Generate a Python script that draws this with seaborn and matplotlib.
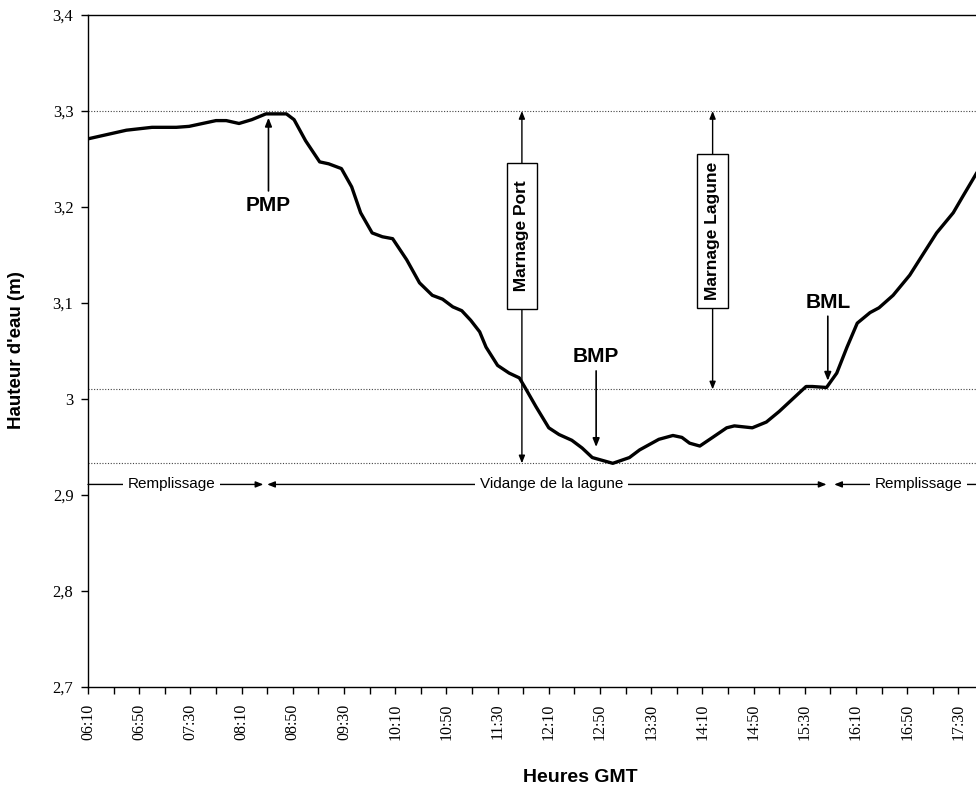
import matplotlib
matplotlib.use("Agg")
import numpy as np
import pandas as pd
import seaborn as sns
import matplotlib.pyplot as plt
from matplotlib.ticker import FuncFormatter

heures = ["06:10", "06:40", "07:00", "07:19", "07:29", "07:50", "07:58", "08:08", "08:18", "08:29",
          "08:45", "08:51", "09:00", "09:11", "09:18", "09:28", "09:36", "09:43", "09:52", "10:00",
          "10:08", "10:19", "10:29", "10:39", "10:47", "10:55", "11:02", "11:09", "11:16", "11:21",
          "11:30", "11:39", "11:47", "11:51", "12:00", "12:10", "12:18", "12:28", "12:36", "12:44",
          "13:00", "13:13", "13:21", "13:36", "13:47", "13:54", "14:00", "14:08", "14:18", "14:29",
          "14:35", "14:49", "15:00", "15:10", "15:31", "15:36", "15:47", "15:55", "16:03", "16:11",
          "16:21", "16:28", "16:39", "16:52", "17:02", "17:13", "17:26", "17:33", "17:45"]
hauteur = [3.271, 3.280, 3.283, 3.283, 3.284, 3.290, 3.290, 3.287, 3.291, 3.297,
           3.297, 3.291, 3.269, 3.247, 3.245, 3.240, 3.221, 3.194, 3.173, 3.169,
           3.167, 3.145, 3.121, 3.108, 3.104, 3.096, 3.092, 3.082, 3.070, 3.054,
           3.035, 3.027, 3.022, 3.013, 2.992, 2.970, 2.963, 2.957, 2.949, 2.939,
           2.933, 2.939, 2.947, 2.958, 2.962, 2.960, 2.954, 2.951, 2.960, 2.970,
           2.972, 2.970, 2.976, 2.987, 3.013, 3.013, 3.012, 3.027, 3.054, 3.079,
           3.090, 3.095, 3.108, 3.129, 3.150, 3.173, 3.194, 3.210, 3.237]

niveaux = [3.30, 3.01, 2.933]
etiquettes_x = ["06:10", "06:50", "07:30", "08:10", "08:50", "09:30", "10:10", "10:50", "11:30",
                "12:10", "12:50", "13:30", "14:10", "14:50", "15:30", "16:10", "16:50", "17:30"]

# (texte, heure, niveau du texte, niveau pointé)
reperes = [("PMP", "08:31", 3.202, 3.293),
           ("BMP", "12:47", 3.044, 2.950),
           ("BML", "15:48", 3.101, 3.019)]
# (texte, heure, niveau haut, niveau bas, niveau du cadre)
marnages = [("  Marnage Port  ", "11:49", 3.30, 2.933, 3.170),
            ("Marnage Lagune", "14:18", 3.30, 3.01, 3.175)]
# (texte, début, fin, centre du texte, style)
phases = [("Remplissage", "06:10", "08:27", "07:15", "-|>"),
          ("Vidange de la lagune", "08:30", "15:47", "12:12", "<|-|>"),
          ("Remplissage", "15:53", "19:30", "16:59", "<|-")]
niveau_phases = 2.911


def en_minutes(h):
    hh, mm = h.split(":")
    return int(hh) * 60 + int(mm)


df = pd.DataFrame({"minutes": [en_minutes(h) for h in heures], "hauteur": hauteur})

sns.set_style("ticks")
plt.rcParams["font.family"] = ["Liberation Sans", "DejaVu Sans"]
plt.rcParams.update({"text.color": "black", "axes.labelcolor": "black",
                     "xtick.color": "black", "ytick.color": "black"})

fig = plt.figure(figsize=(9.76, 7.92), dpi=100)
ax = fig.add_axes([88 / 976, 1 - 687 / 792, 983 / 976, 672 / 792])

sns.lineplot(data=df, x="minutes", y="hauteur", color="black", linewidth=2.4, ax=ax, zorder=3,
             solid_joinstyle="round", solid_capstyle="round")

debut = en_minutes(etiquettes_x[0])
ax.set_xlim(debut, debut + 768)
ax.set_ylim(2.7, 3.4)

for n in niveaux:
    ax.axhline(n, color="#444444", lw=0.8, ls=(0, (1, 1.5)), zorder=1)

pos_x = [en_minutes(t) for t in etiquettes_x]
ax.set_xticks(pos_x)
ax.set_xticklabels(etiquettes_x, rotation=90, fontfamily="Liberation Serif", fontsize=11.5)
ax.set_xticks([p + 20 for p in pos_x], minor=True)
ax.set_yticks(np.arange(2.7, 3.41, 0.1))
ax.yaxis.set_major_formatter(FuncFormatter(lambda v, p: f"{round(v, 1):g}".replace(".", ",")))
for lab in ax.get_yticklabels():
    lab.set_fontfamily("Liberation Serif")
    lab.set_fontsize(12)
ax.tick_params(axis="y", direction="out", length=5, width=1, color="black", pad=5.5)
ax.tick_params(axis="x", which="both", direction="out", length=5, width=1, color="black", pad=7)

for s in ax.spines.values():
    s.set_color("black")
    s.set_linewidth(1.0)

ax.set_xlabel("Heures GMT", fontsize=14, fontweight="bold")
ax.xaxis.set_label_coords((580 - 88) / 983, -(778 - 687) / 672)
ax.xaxis.label.set_va("center")
ax.set_ylabel("Hauteur d'eau (m)", fontsize=13.5, fontweight="bold")
ax.yaxis.set_label_coords(-(88 - 17) / 983, (687 - 350) / 672)
ax.yaxis.label.set_va("center")

for txt, h, y_txt, y_pt in reperes:
    t = en_minutes(h)
    ax.annotate(txt, xy=(t, y_pt), xytext=(t, y_txt), ha="center", va="center",
                fontsize=15, fontweight="bold", zorder=5,
                arrowprops=dict(arrowstyle="-|>,head_length=0.5,head_width=0.2", mutation_scale=10,
                                color="black", lw=1.2, shrinkA=1, shrinkB=0))

for txt, h, y_haut, y_bas, y_cadre in marnages:
    t = en_minutes(h)
    ax.annotate("", xy=(t, y_haut), xytext=(t, y_bas), zorder=2,
                arrowprops=dict(arrowstyle="<|-|>,head_length=0.45,head_width=0.18", mutation_scale=10,
                                color="black", lw=1.0, shrinkA=0, shrinkB=0))
    ax.text(t, y_cadre, txt, rotation=90, ha="center", va="center", fontsize=12.5,
            fontweight="bold", zorder=4,
            bbox=dict(boxstyle="square,pad=0.45", fc="white", ec="black", lw=1.0))

for txt, h0, h1, hc, style in phases:
    ax.annotate("", xy=(en_minutes(h1), niveau_phases), xytext=(en_minutes(h0), niveau_phases),
                annotation_clip=False, zorder=2,
                arrowprops=dict(arrowstyle=style + ",head_length=0.45,head_width=0.18", mutation_scale=10,
                                color="black", lw=1.0, shrinkA=0, shrinkB=0))
    ax.text(en_minutes(hc), niveau_phases, txt, ha="center", va="center", fontsize=11, zorder=4,
            bbox=dict(boxstyle="square,pad=0.3", fc="white", ec="none"))

fig.savefig("out.png", dpi=100)
